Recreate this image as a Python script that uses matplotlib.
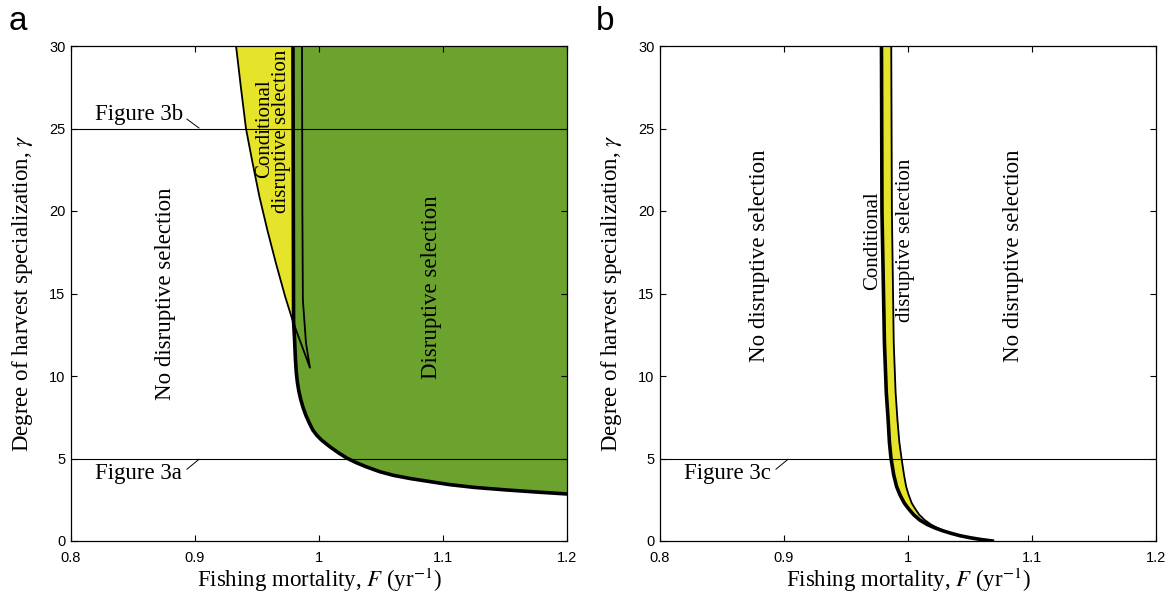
import numpy as np
import matplotlib.pyplot as plt

plt.rcParams['font.family'] = ['Liberation Serif', 'DejaVu Serif']
plt.rcParams['mathtext.fontset'] = 'stix'

yellow = '#E6E32B'
green = '#6BA32E'

# panel a: left edge of the yellow (conditional) region
gam_a_yel = [30, 27.5, 25, 23, 20.85, 18.8, 16.85, 14.79, 13.3]
F_a_yel = [0.9331, 0.937, 0.9411, 0.9462, 0.9520, 0.9585, 0.9652, 0.9728, 0.979]

# panel a: left edge of the green (disruptive) region
gam_a_grn = [30, 13.3, 12.2, 11, 10.2, 9.6, 9.1, 8.6, 8.1, 7.6, 7.15, 6.73, 6.4, 6.12, 5.7, 5.33, 5.02,
             4.75, 4.5, 4.2, 3.98, 3.78, 3.6, 3.42, 3.25, 3.1, 2.97, 2.85]
F_a_grn = [0.979, 0.9795, 0.9803, 0.9810, 0.9817, 0.9826, 0.9837, 0.9852, 0.9871, 0.9895, 0.9922, 0.995,
           0.9983, 1.002, 1.009, 1.016, 1.0226, 1.030, 1.038, 1.049, 1.060, 1.074, 1.0895, 1.105,
           1.125, 1.15, 1.175, 1.2]

# panel a: thin loop inside the green region
gam_a_loop = [30, 20, 14.6, 12, 10.5, 13.3]
F_a_loop = [0.9863, 0.9866, 0.987, 0.9895, 0.9927, 0.979]

# panel b: the two edges of the yellow band
gam_b = [30, 20, 12, 9, 7.33, 6, 5, 4, 3.3, 2.8, 2.3, 1.95, 1.6, 1.27, 1.0, 0.8, 0.62, 0.46, 0.32, 0.2, 0.1, 0]
F_b_lo = [0.9786, 0.979, 0.981, 0.9825, 0.984, 0.985, 0.9863, 0.9885, 0.9908, 0.9935, 0.997, 1.0005,
          1.0045, 1.0095, 1.0155, 1.0215, 1.028, 1.035, 1.042, 1.050, 1.058, 1.068]
F_b_hi = [0.9865, 0.987, 0.9885, 0.990, 0.9915, 0.993, 0.9948, 0.9968, 0.9985, 1.0005, 1.003, 1.0058,
          1.009, 1.0135, 1.0185, 1.0235, 1.029, 1.0355, 1.042, 1.050, 1.058, 1.068]

xticks = [0.8, 0.9, 1.0, 1.1, 1.2]
xticklabels = ['0.8', '0.9', '1', '1.1', '1.2']
yticks = [0, 5, 10, 15, 20, 25, 30]

fig = plt.figure(figsize=(11.71, 5.94), dpi=100)
ax1 = fig.add_axes([71/1171, 1-541/594, 496/1171, 495/594])
ax2 = fig.add_axes([660/1171, 1-541/594, 496/1171, 495/594])

tickfont = dict(family='Liberation Sans', size=10.5)
lbl = 16.5
small = 15

for ax in (ax1, ax2):
    ax.set_xlim(0.8, 1.2)
    ax.set_ylim(0, 30)
    ax.set_xticks(xticks)
    ax.set_xticklabels(xticklabels, **tickfont)
    ax.set_yticks(yticks)
    ax.set_yticklabels([str(t) for t in yticks], **tickfont)
    ax.tick_params(direction='in', top=True, right=True, length=4, width=0.8)
    ax.tick_params(axis='x', pad=7)
    ax.tick_params(axis='y', pad=4)
    for s in ax.spines.values():
        s.set_linewidth(0.9)
    ax.set_xlabel('Fishing mortality, $F$ (yr$^{-1}$)', fontsize=lbl, labelpad=1)
    ax.set_ylabel('Degree of harvest specialization, $\\gamma$', fontsize=lbl, labelpad=10)

# panel a
ax1.fill(F_a_yel + [0.979], gam_a_yel + [30], color=yellow, lw=0, zorder=1)
ax1.fill(F_a_grn + [1.2], gam_a_grn + [30], color=green, lw=0, zorder=1)
ax1.plot(F_a_yel, gam_a_yel, color='k', lw=1.3, zorder=3)
ax1.plot(F_a_grn, gam_a_grn, color='k', lw=2.6, zorder=3, solid_capstyle='butt')
ax1.plot(F_a_loop, gam_a_loop, color='k', lw=1.3, zorder=3)
for g in (25, 5):
    ax1.axhline(g, color='k', lw=0.8, zorder=2)
ax1.text(0.819, 25.2, 'Figure 3b', fontsize=lbl, va='bottom', ha='left')
ax1.plot([0.8935, 0.9032], [25.57, 25.03], color='k', lw=0.7)
ax1.text(0.819, 4.1, 'Figure 3a', fontsize=lbl, va='center', ha='left')
ax1.plot([0.8935, 0.9032], [4.35, 4.95], color='k', lw=0.7)
ax1.text(0.8766, 15, 'No disruptive selection', rotation=90, fontsize=lbl, ha='center', va='center')
ax1.text(1.091, 15.4, 'Disruptive selection', rotation=90, fontsize=lbl, ha='center', va='center')
ax1.text(0.9565, 25.0, 'Conditional', rotation=90, fontsize=small, ha='center', va='center')
ax1.text(0.9700, 24.8, 'disruptive selection', rotation=90, fontsize=small, ha='center', va='center')

# panel b
ax2.fill_betweenx(gam_b, F_b_lo, F_b_hi, color=yellow, lw=0, zorder=1)
ax2.plot(F_b_lo, gam_b, color='k', lw=2.6, zorder=3)
ax2.plot(F_b_hi, gam_b, color='k', lw=1.3, zorder=3)
ax2.axhline(5, color='k', lw=0.8, zorder=2)
ax2.text(0.819, 4.1, 'Figure 3c', fontsize=lbl, va='center', ha='left')
ax2.plot([0.8935, 0.9032], [4.35, 4.95], color='k', lw=0.7)
ax2.text(0.8806, 17.3, 'No disruptive selection', rotation=90, fontsize=lbl, ha='center', va='center')
ax2.text(1.0847, 17.3, 'No disruptive selection', rotation=90, fontsize=lbl, ha='center', va='center')
ax2.text(0.9718, 18.2, 'Conditional', rotation=90, fontsize=small, ha='center', va='center')
ax2.text(0.9976, 18.2, 'disruptive selection', rotation=90, fontsize=small, ha='center', va='center')

fig.text(9/1171, 1-22/594, 'a', family='Liberation Sans', fontsize=24, ha='left', va='center')
fig.text(596/1171, 1-21/594, 'b', family='Liberation Sans', fontsize=24, ha='left', va='center')

fig.savefig('out.png', dpi=100)
